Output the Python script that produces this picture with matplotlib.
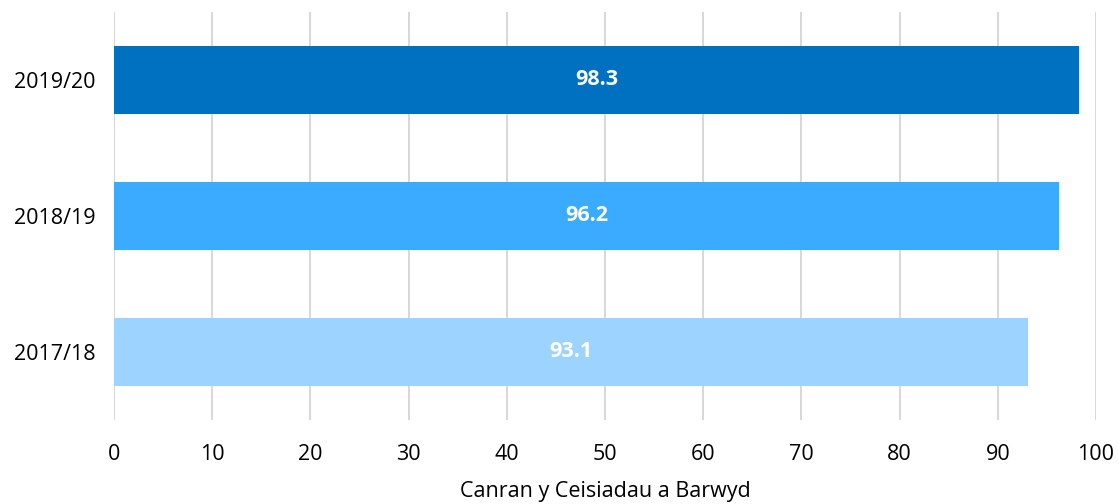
import matplotlib.pyplot as plt

plt.rcParams['font.family'] = ['Open Sans', 'DejaVu Sans']

years = ['2017/18', '2018/19', '2019/20']
values = [93.1, 96.2, 98.3]
colors = ['#9DD4FF', '#3BABFF', '#0070C0']
xticks = [0, 10, 20, 30, 40, 50, 60, 70, 80, 90, 100]

fig = plt.figure(figsize=(11.19, 5.04), dpi=100)
ax = fig.add_axes([0.1019, 0.1667, 0.8775, 0.8095])

ypos = range(len(years))
ax.barh(ypos, values, height=0.5, color=colors, zorder=2)

# labels inside the bars
for y, v in zip(ypos, values):
    ax.text(v / 2, y, f'{v:.1f}', ha='center', va='center',
            color='white', fontsize=15.5, fontweight='bold', zorder=3)

ax.set_xlim(0, 100)
ax.set_ylim(-0.5, 2.5)
ax.set_xticks(xticks)
ax.set_yticks(list(ypos))
ax.set_yticklabels(years)
ax.tick_params(axis='both', length=0, labelsize=15.5, colors='black')
ax.tick_params(axis='x', pad=17)
ax.tick_params(axis='y', pad=13)
ax.grid(axis='x', color='#D9D9D9', linewidth=1.5, zorder=0)
for s in ax.spines.values():
    s.set_visible(False)
ax.set_xlabel('Canran y Ceisiadau a Barwyd', fontsize=15.5, labelpad=12)

fig.savefig('out.png', dpi=100)
